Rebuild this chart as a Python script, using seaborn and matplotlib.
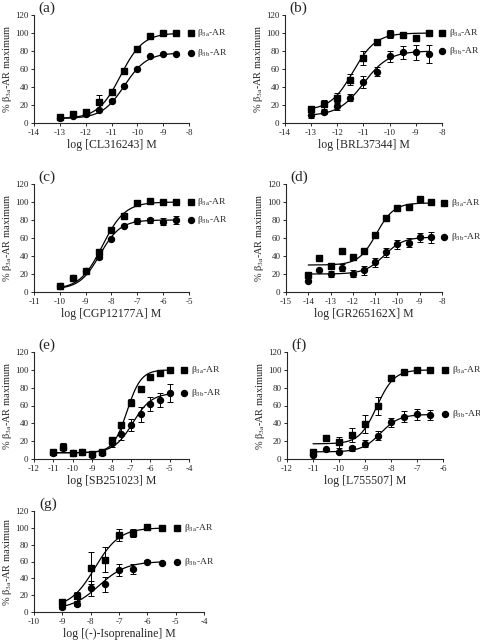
import numpy as np
import matplotlib
matplotlib.use('Agg')
import matplotlib.pyplot as plt
import seaborn as sns

# ---- data (log M, % of beta3a maximum) ----
x_a = [-13, -12.5, -12, -11.5, -11, -10.5, -10, -9.5, -9, -8.5]
sq_a = [7, 10, 12, 23, 35, 58, 82, 97, 99.5, 100]
sqerr_a = [1, 2, 4, 8, 3, 3, 2, 2, 1, 1]
ci_a = [6, 8, 9.6, 14, 25, 41, 60, 74, 77, 77]
cierr_a = [1, 1, 1, 1, 2, 1, 1, 1, 1, 1]
fitsq_a = [5, 100, -10.65, 1.0]   # bottom, top, logEC50, hill
fitci_a = [5, 78, -10.5, 1.0]

x_b = [-13, -12.5, -12, -11.5, -11, -10.5, -10, -9.5, -9, -8.5]
sq_b = [16, 21, 28, 48, 72, 90, 99, 98, 94, 100]
sqerr_b = [3, 5, 5, 6, 8, 3, 4, 3, 3, 1]
ci_b = [9, 12, 18.5, 28, 45.5, 57, 74, 78.5, 78.5, 76.5]
cierr_b = [3, 2, 4, 4, 7, 5, 6, 7, 8, 10]
fitsq_b = [14, 100, -11.4, 1.0]
fitci_b = [8, 80, -11.0, 0.9]

x_c = [-10, -9.5, -9, -8.5, -8, -7.5, -7, -6.5, -6, -5.5]
sq_c = [6.7, 16, 23, 45, 69, 85, 99, 101, 100, 100]
sqerr_c = [1, 2, 1, 2, 2, 3, 3, 2, 1, 1]
ci_c = [7, 16, 23, 39, 59, 73, 79, 79.5, 78, 80]
cierr_c = [1, 1, 1, 2, 1, 1, 3, 3, 4, 4]
fitsq_c = [3, 100, -8.35, 1.0]
fitci_c = [3, 80, -8.45, 1.1]

x_d = [-14, -13.5, -13, -12.5, -12, -11.5, -11, -10.5, -10, -9.5, -9, -8.5]
sq_d = [18.6, 37.6, 29, 45.8, 39, 46, 63.7, 82, 93.5, 94.5, 103, 100]
sqerr_d = [1, 1, 3, 1, 1, 1, 1, 1, 1, 1, 3, 1]
ci_d = [12.3, 24.6, 20, 27, 20.5, 24, 33, 44, 53, 55, 61, 61]
cierr_d = [1, 1, 3, 4, 4, 5, 5, 5, 5, 5, 5, 6]
fitsq_d = [30, 99, -10.95, 1.1]
fitci_d = [20, 61, -10.6, 1.0]

x_e = [-11, -10.5, -10, -9.5, -9, -8.5, -8, -7.5, -7, -6.5, -6, -5.5, -5]
sq_e = [7.5, 13, 6.7, 7.5, 6, 7.5, 21, 38.5, 63, 78, 92, 96, 100]
sqerr_e = [2, 5, 1, 1, 1, 1, 2, 3, 4, 3, 1, 2, 1]
ci_e = [7, 12, 7, 7.5, 5, 6.7, 18, 28, 38, 50, 62, 66.5, 74]
cierr_e = [1, 1, 1, 1, 1, 1, 4, 7, 7, 8, 8, 8, 10]
fitsq_e = [7, 100, -7.2, 1.2]
fitci_e = [7, 74, -6.9, 0.9]

x_f = [-11, -10.5, -10, -9.5, -9, -8.5, -8, -7.5, -7, -6.5]
sq_f = [8, 23, 18.7, 27, 39, 59, 90.5, 97.5, 100, 100]
sqerr_f = [2, 3, 6, 8, 10, 10, 2, 1, 1, 1]
ci_f = [5, 11, 8, 12, 17, 26, 41, 47.5, 50, 49.5]
cierr_f = [1, 1, 1, 3, 4, 5, 5, 6, 6, 6]
fitsq_f = [17, 100, -8.55, 1.3]
fitci_f = [8, 50, -8.4, 1.2]

x_g = [-9, -8.5, -8, -7.5, -7, -6.5, -6, -5.5]
sq_g = [11.8, 18.6, 51.7, 62, 91.6, 93.6, 101.5, 100]
sqerr_g = [4, 5, 19, 15, 7, 5, 2, 1]
ci_g = [5.5, 10, 28, 32.8, 50, 51, 60, 58]
cierr_g = [2, 3, 9, 9, 7, 6, 2, 1]
fitsq_g = [5, 100, -7.85, 1.0]
fitci_g = [3, 60, -7.7, 0.9]

labels = ['(a)', '(b)', '(c)', '(d)', '(e)', '(f)', '(g)']
xlabels = ['log [CL316243] M', 'log [BRL37344] M', 'log [CGP12177A] M',
           'log [GR265162X] M', 'log [SB251023] M', 'log [L755507] M',
           'log [(-)-Isoprenaline] M']
xlims = [(-14, -8), (-14, -8), (-11, -5), (-15, -8), (-12, -4), (-12, -6), (-10, -4)]

panels = [
    (x_a, sq_a, sqerr_a, ci_a, cierr_a, fitsq_a, fitci_a),
    (x_b, sq_b, sqerr_b, ci_b, cierr_b, fitsq_b, fitci_b),
    (x_c, sq_c, sqerr_c, ci_c, cierr_c, fitsq_c, fitci_c),
    (x_d, sq_d, sqerr_d, ci_d, cierr_d, fitsq_d, fitci_d),
    (x_e, sq_e, sqerr_e, ci_e, cierr_e, fitsq_e, fitci_e),
    (x_f, sq_f, sqerr_f, ci_f, cierr_f, fitsq_f, fitci_f),
    (x_g, sq_g, sqerr_g, ci_g, cierr_g, fitsq_g, fitci_g),
]

# axes boxes in pixels: left, right, top, bottom
boxes = [(34, 189, 15, 123), (285, 442, 15, 123),
         (34, 189, 184, 292), (286, 442, 184, 292),
         (34, 189, 352, 459), (287, 443, 352, 459),
         (34, 204, 511, 612)]
# x position of the key markers, in axes fraction
key_x = [1.01, 1.0, 1.01, 1.01, 0.97, 1.01, 0.84]

sns.set_style('ticks')
plt.rcParams['font.family'] = ['Liberation Serif', 'DejaVu Serif']
plt.rcParams['mathtext.fontset'] = 'stix'
plt.rcParams['axes.unicode_minus'] = False

W, H = 481, 640
fig = plt.figure(figsize=(W / 100, H / 100), dpi=100)


def hill(x, p):
    b, t, ec, n = p
    return b + (t - b) / (1 + 10 ** ((ec - x) * n))


for i, (xs, sq, sqe, ci, cie, fsq, fci) in enumerate(panels):
    l, r, t, b = boxes[i]
    ax = fig.add_axes([l / W, 1 - b / H, (r - l) / W, (b - t) / H])

    xx = np.linspace(xs[0], xs[-1], 200)
    sns.lineplot(x=xx, y=hill(xx, fsq), ax=ax, color='black', lw=0.9)
    sns.lineplot(x=xx, y=hill(xx, fci), ax=ax, color='black', lw=0.9)

    ax.errorbar(xs, sq, yerr=sqe, fmt='s', color='black', ms=4.3,
                elinewidth=0.7, capsize=2, capthick=0.7)
    ax.errorbar(xs, ci, yerr=cie, fmt='o', color='black', ms=4.3,
                elinewidth=0.7, capsize=2, capthick=0.7)

    ax.set_xlim(*xlims[i])
    ax.set_ylim(0, 120)
    ax.set_xticks(np.arange(xlims[i][0], xlims[i][1] + 1, 1))
    ax.set_yticks(range(0, 121, 20))
    ax.tick_params(labelsize=6.5, length=2.5, width=0.7, pad=1.5)
    for s in ['left', 'bottom']:
        ax.spines[s].set_linewidth(0.8)
    sns.despine(ax=ax)

    ax.set_xlabel(xlabels[i], fontsize=8.5, labelpad=2)
    ax.set_ylabel('% β$_{\\mathregular{3a}}$-AR maximum', fontsize=7.5, labelpad=0.5)
    ax.text(0.03, 1.0, labels[i], transform=ax.transAxes, fontsize=11,
            ha='left', va='bottom')

    # key markers placed at the plateau of each curve
    for mk, top, name in [('s', fsq[1], 'β$_{\\mathregular{3a}}$-AR'),
                          ('o', fci[1], 'β$_{\\mathregular{3b}}$-AR')]:
        ax.plot([key_x[i]], [top], marker=mk, color='black', ms=4.3,
                clip_on=False, ls='none', transform=ax.get_yaxis_transform())
        ax.annotate(name, (key_x[i], top), xycoords=ax.get_yaxis_transform(),
                    xytext=(5, 0), textcoords='offset points', va='center',
                    ha='left', fontsize=6.8, annotation_clip=False)

fig.savefig('out.png', dpi=100)
